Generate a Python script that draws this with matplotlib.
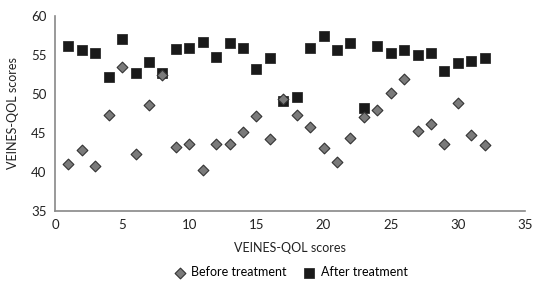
import numpy as np
import matplotlib.pyplot as plt

# patient index
patients = np.arange(1, 33)

before = [41.0, 42.8, 40.8, 47.3, 53.4, 42.3, 48.6, 52.4, 43.2, 43.6,
          40.3, 43.6, 43.6, 45.1, 47.2, 44.2, 49.4, 47.3, 45.7, 43.1,
          41.3, 44.4, 47.0, 47.9, 50.1, 51.9, 45.3, 46.1, 43.6, 48.8,
          44.7, 43.5]
after = [56.1, 55.6, 55.3, 52.2, 57.0, 52.7, 54.1, 52.7, 55.8, 55.9,
         56.6, 54.7, 56.5, 55.9, 53.2, 54.6, 49.1, 49.6, 55.9, 57.4,
         55.6, 56.5, 48.2, 56.1, 55.2, 55.6, 55.0, 55.2, 52.9, 54.0,
         54.2, 54.6]

plt.rcParams['font.family'] = ['Lato', 'DejaVu Sans']

fig = plt.figure(figsize=(5.52, 2.85), dpi=100)
ax = fig.add_axes([0.0996, 0.26, 0.8514, 0.684])

ax.scatter(patients, before, marker='D', s=30, color='#7a7a7a',
           edgecolors='#333333', linewidths=0.8, label='Before treatment', zorder=3)
ax.scatter(patients, after, marker='s', s=60, color='#1a1a1a',
           edgecolors='#1a1a1a', linewidths=0.5, label='After treatment', zorder=2)

ax.set_xlim(0, 35)
ax.set_ylim(35, 60)
ax.set_xticks(range(0, 36, 5))
ax.set_yticks(range(35, 61, 5))
ax.tick_params(length=0, labelsize=9.5, colors='#222222', pad=6)

for side in ['top', 'right']:
    ax.spines[side].set_visible(False)
for side in ['left', 'bottom']:
    ax.spines[side].set_color('#888888')
    ax.spines[side].set_linewidth(1.2)

ax.set_xlabel('VEINES-QOL scores', fontsize=9, color='#222222', labelpad=8)
ax.set_ylabel('VEINES-QOL scores', fontsize=9, color='#222222', labelpad=9)

ax.legend(loc='center', bbox_to_anchor=(0.5, -0.315), ncol=2, frameon=False,
          fontsize=9, handletextpad=0.3, columnspacing=1.2, borderpad=0.2,
          handlelength=1.2)

fig.savefig('out.png', dpi=100)
